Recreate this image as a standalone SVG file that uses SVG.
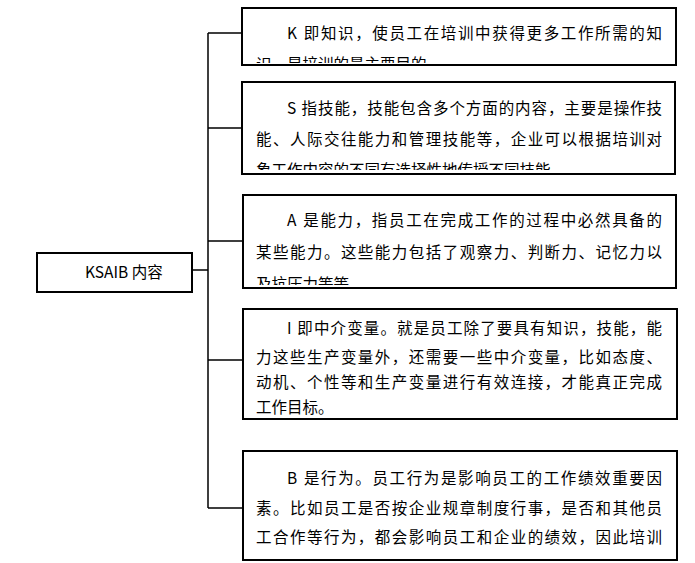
<svg xmlns="http://www.w3.org/2000/svg" width="695" height="563" viewBox="0 0 695 563">
<style>
rect{fill:#fff;stroke:#000;stroke-width:2}
text{font-family:"Noto Sans CJK SC","Liberation Serif",sans-serif;font-size:15.5px;fill:#000}
.c{fill:none;stroke:#000;stroke-width:1.5}
</style>
<defs>
<clipPath id="c1"><rect x="243" y="9" width="432" height="54"/></clipPath>
<clipPath id="c2"><rect x="243" y="83" width="431" height="87"/></clipPath>
<clipPath id="c3"><rect x="244" y="196" width="431" height="89"/></clipPath>
</defs>
<g id="connectors">
<path class="c" d="M192 270H208M208 33V508M208 33H242M208 128H242M208 241H243M208 360H243M208 508H243"/>
</g>
<g id="root"><rect x="37" y="253" width="155" height="39"/><text x="85" y="278">KSAIB 内容</text></g>
<g id="k"><rect x="242" y="8" width="434" height="57"/>
<g clip-path="url(#c1)"><text x="287" y="39" textLength="375">K 即知识，使员工在培训中获得更多工作所需的知</text>
<text x="256" y="70">识，是培训的最主要目的。</text></g></g>
<g id="s"><rect x="242" y="82" width="433" height="92"/>
<g clip-path="url(#c2)"><text x="287" y="114" textLength="375">S 指技能，技能包含多个方面的内容，主要是操作技</text>
<text x="256" y="145" textLength="406">能、人际交往能力和管理技能等，企业可以根据培训对</text>
<text x="256" y="176">象工作内容的不同有选择性地传授不同技能。</text></g></g>
<g id="a"><rect x="243" y="195" width="433" height="93"/>
<g clip-path="url(#c3)"><text x="287" y="226" textLength="375">A 是能力，指员工在完成工作的过程中必然具备的</text>
<text x="256" y="258" textLength="406">某些能力。这些能力包括了观察力、判断力、记忆力以</text>
<text x="256" y="290">及抗压力等等。</text></g></g>
<g id="i"><rect x="243" y="309" width="434" height="110"/>
<text x="287" y="334" textLength="375">I 即中介变量。就是员工除了要具有知识，技能，能</text>
<text x="256" y="363" textLength="406">力这些生产变量外，还需要一些中介变量，比如态度、</text>
<text x="256" y="388" textLength="406">动机、个性等和生产变量进行有效连接，才能真正完成</text>
<text x="256" y="413">工作目标。</text></g>
<g id="b"><rect x="243" y="451" width="434" height="109"/>
<text x="287" y="484" textLength="375">B 是行为。员工行为是影响员工的工作绩效重要因</text>
<text x="256" y="514" textLength="406">素。比如员工是否按企业规章制度行事，是否和其他员</text>
<text x="256" y="543" textLength="406">工合作等行为，都会影响员工和企业的绩效，因此培训</text></g>
</svg>
